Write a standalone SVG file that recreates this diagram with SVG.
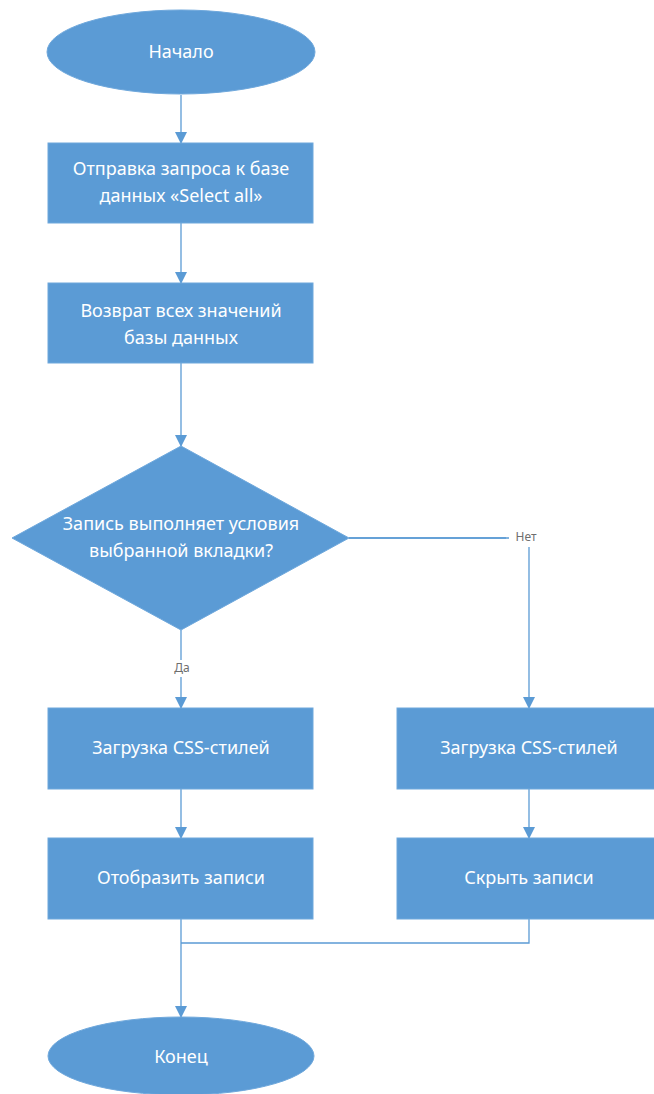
<svg xmlns="http://www.w3.org/2000/svg" width="654" height="1094" viewBox="0 0 654 1094">
<defs>
<style>
.n{fill:#5B9BD5;stroke:#6FA8DC;stroke-width:1}
.t{fill:#FFFFFF;font-family:"Noto Sans","Open Sans",sans-serif;font-size:18px;text-anchor:middle;dominant-baseline:middle}
.c{fill:none;stroke:#5B9BD5;stroke-width:1.3}
.l{fill:#6E6E6E;font-family:"Noto Sans","Open Sans",sans-serif;font-size:12px;text-anchor:middle;dominant-baseline:middle}
</style>
<marker id="a" markerWidth="12" markerHeight="12" refX="11" refY="6" orient="auto" markerUnits="userSpaceOnUse">
<path d="M0,0 L12,6 L0,12 Z" fill="#5B9BD5"/>
</marker>
</defs>
<rect width="654" height="1094" fill="#FFFFFF"/>
<g id="connectors">
<line class="c" x1="181" y1="95" x2="181" y2="143" marker-end="url(#a)"/>
<line class="c" x1="181" y1="223" x2="181" y2="283" marker-end="url(#a)"/>
<line class="c" x1="181" y1="363" x2="181" y2="446" marker-end="url(#a)"/>
<polyline class="c" points="181,630 181,708" marker-end="url(#a)"/>
<polyline class="c" points="349,538 529,538 529,708" marker-end="url(#a)"/>
<line class="c" x1="181" y1="789" x2="181" y2="838" marker-end="url(#a)"/>
<line class="c" x1="529" y1="789" x2="529" y2="838" marker-end="url(#a)"/>
<polyline class="c" points="181,919 181,1017" marker-end="url(#a)"/>
<polyline class="c" points="529,919 529,943 181,943"/>
<rect x="172" y="660" width="20" height="17" fill="#FFFFFF"/>
<text class="l" x="182" y="669">Да</text>
<rect x="506" y="530" width="36" height="17" fill="#FFFFFF"/>
<line class="c" x1="349" y1="538" x2="509" y2="538"/>
<text class="l" x="526" y="538">Нет</text>
</g>
<g id="start">
<ellipse class="n" cx="181" cy="52" rx="134" ry="42"/>
<text class="t" x="181" y="53">Начало</text>
</g>
<g id="query">
<rect class="n" x="48" y="143" width="265" height="80"/>
<text class="t" x="181" y="170">Отправка запроса к базе</text>
<text class="t" x="181" y="197">данных «Select all»</text>
</g>
<g id="return">
<rect class="n" x="48" y="283" width="265" height="80"/>
<text class="t" x="181" y="312">Возврат всех значений</text>
<text class="t" x="181" y="339">базы данных</text>
</g>
<g id="decision">
<polygon class="n" points="181,446 349,538 181,630 12,538"/>
<text class="t" x="181" y="525">Запись выполняет условия</text>
<text class="t" x="181" y="552">выбранной вкладки?</text>
</g>
<g id="css-left">
<rect class="n" x="48" y="708" width="265" height="81"/>
<text class="t" x="181" y="749">Загрузка CSS-стилей</text>
</g>
<g id="css-right">
<rect class="n" x="397" y="708" width="265" height="81"/>
<text class="t" x="529" y="749">Загрузка CSS-стилей</text>
</g>
<g id="show">
<rect class="n" x="48" y="838" width="265" height="81"/>
<text class="t" x="181" y="879">Отобразить записи</text>
</g>
<g id="hide">
<rect class="n" x="397" y="838" width="265" height="81"/>
<text class="t" x="529" y="879">Скрыть записи</text>
</g>
<g id="end">
<ellipse class="n" cx="181" cy="1056" rx="133" ry="39"/>
<text class="t" x="181" y="1058">Конец</text>
</g>
</svg>
